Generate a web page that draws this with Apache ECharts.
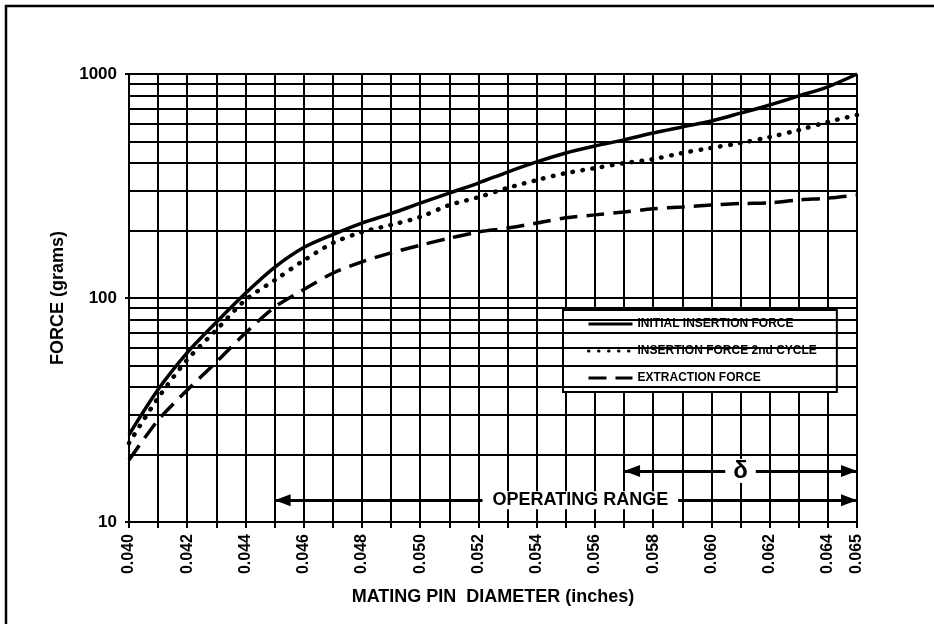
<!DOCTYPE html>
<html>
<head>
<meta charset="utf-8">
<script src="https://cdn.jsdelivr.net/npm/echarts@6/dist/echarts.min.js"></script>
<style>
html,body{margin:0;padding:0;background:#fff;}
#chart{width:934px;height:625px;}
</style>
</head>
<body>
<div id="chart"></div>
<script>
// ---- data ----
var diameters = [0.040,0.041,0.042,0.043,0.044,0.045,0.046,0.047,0.048,0.049,0.050,0.051,0.052,0.053,0.054,0.055,0.056,0.057,0.058,0.059,0.060,0.061,0.062,0.063,0.064,0.065];
var initialInsertion = [24.5,39,57,78,105,137,168,192,216,238,265,294,326,365,405,444,477,508,545,580,617,669,727,798,877,1000];
var secondCycle = [22.5,35.8,53,72,98,120,147,176,197,212,230,260,282,310,336,361,380,400,417,444,468,492,523,562,611,656];
var extraction = [18.9,28.5,38.8,51.8,69.8,91,109,129,145,159,172,185,197,205,216,228,235,242,250,255,260,264,266,274,279,288];
var seriesNames = ['INITIAL INSERTION FORCE','INSERTION FORCE 2nd CYCLE','EXTRACTION FORCE'];
var minorGridValues = [20,30,40,50,60,70,80,90,200,300,400,500,600,700,800,900];
var operatingRange = [0.045, 0.065];
var operatingRangeForce = 12.5;
var operatingRangeLabelAt = 0.0555;
var deltaRange = [0.057, 0.065];
var deltaForce = 16.9;
var deltaLabelAt = 0.061;

function pairs(xs, ys){ return xs.map(function(x,i){ return [x, ys[i]]; }); }

var chart = echarts.init(document.getElementById('chart'), null, {renderer:'canvas'});
var font = 'Liberation Sans, Arial, sans-serif';
var gridLine = {color:'#000', width:2};

var option = {
  animation:false,
  backgroundColor:'#fff',
  textStyle:{fontFamily:font},
  graphic:[
    {type:'polyline', silent:true, shape:{points:[[6,624],[6,6],[934,6]]}, style:{stroke:'#000', lineWidth:2.5, fill:null}}
  ],
  grid:{left:129, right:77, top:74, bottom:103, containLabel:false},
  legend:{
    data:seriesNames,
    orient:'vertical',
    left:563, top:310,
    padding:[8,20,8,24],
    itemGap:15,
    itemWidth:44, itemHeight:14,
    backgroundColor:'#fff',
    borderColor:'#000', borderWidth:2,
    itemStyle:{opacity:0},
    lineStyle:{width:3},
    textStyle:{fontFamily:font, fontWeight:'bold', fontSize:12, color:'#000'}
  },
  xAxis:{
    type:'value', min:0.040, max:0.065, interval:0.002,
    name:'MATING PIN  DIAMETER (inches)', nameLocation:'middle', nameGap:66,
    nameTextStyle:{fontFamily:font, fontWeight:'bold', fontSize:18, color:'#000'},
    axisLine:{show:true, onZero:false, lineStyle:{color:'#000', width:2}},
    axisTick:{show:true, length:6, lineStyle:{color:'#000', width:2}},
    minorTick:{show:true, splitNumber:2, length:6, lineStyle:{color:'#000', width:2}},
    splitLine:{show:true, lineStyle:gridLine},
    minorSplitLine:{show:true, lineStyle:gridLine},
    axisLabel:{rotate:90, margin:12, fontFamily:font, fontWeight:'bold', fontSize:16, color:'#000',
      formatter:function(v){ return v.toFixed(3); }}
  },
  yAxis:{
    type:'log', logBase:10, min:10, max:1000,
    name:'FORCE (grams)', nameLocation:'middle', nameGap:62, nameRotate:90,
    nameTextStyle:{fontFamily:font, fontWeight:'bold', fontSize:18, color:'#000'},
    axisLine:{show:true, lineStyle:{color:'#000', width:2}},
    axisTick:{show:true, length:4, lineStyle:{color:'#000', width:2}},
    splitLine:{show:true, lineStyle:gridLine},
    axisLabel:{margin:12, fontFamily:font, fontWeight:'bold', fontSize:17, color:'#000',
      formatter:function(v){ return String(Math.round(v)); }}
  },
  series:[
    {
      name:seriesNames[0], type:'line', data:pairs(diameters, initialInsertion),
      smooth:0.3, showSymbol:false, symbol:'none',
      lineStyle:{color:'#000', width:3.5, type:'solid'},
      itemStyle:{color:'#000'},
      markLine:{
        silent:true, symbol:'none', label:{show:false},
        lineStyle:{color:'#000', width:2, type:'solid'},
        data:minorGridValues.map(function(v){ return {yAxis:v}; })
      },
      z:5
    },
    {
      name:seriesNames[1], type:'line', data:pairs(diameters, secondCycle),
      smooth:0.3, showSymbol:false, symbol:'none',
      lineStyle:{color:'#000', width:4.5, type:[0.5,9.5], cap:'round'},
      itemStyle:{color:'#000'}, z:5
    },
    {
      name:seriesNames[2], type:'line', data:pairs(diameters, extraction),
      smooth:0.3, showSymbol:false, symbol:'none',
      lineStyle:{color:'#000', width:3.5, type:[18,9]},
      itemStyle:{color:'#000'}, z:5
    },
    {
      name:'annotations', type:'line', data:[], z:6,
      markLine:{
        silent:true, symbol:['triangle','triangle'], symbolSize:[12,16],
        symbolOffset:[[0,8],[0,8]],
        label:{show:false},
        lineStyle:{color:'#000', width:3, type:'solid'},
        data:[
          [{coord:[operatingRange[0], operatingRangeForce]},{coord:[operatingRange[1], operatingRangeForce]}],
          [{coord:[deltaRange[0], deltaForce]},{coord:[deltaRange[1], deltaForce]}]
        ]
      }
    },
    {
      name:'annotationText', type:'scatter', symbolSize:1, z:7, silent:true,
      itemStyle:{color:'#fff', opacity:1},
      data:[
        {value:[operatingRangeLabelAt, operatingRangeForce], label:{formatter:'OPERATING RANGE', fontSize:18, padding:[0,10,0,10]}},
        {value:[deltaLabelAt, deltaForce], label:{formatter:'δ', fontSize:24, padding:[0,8,0,8]}}
      ],
      label:{show:true, position:'inside', color:'#000', opacity:1, fontFamily:font, fontWeight:'bold', backgroundColor:'#fff'}
    }
  ]
};
chart.setOption(option);
</script>
</body>
</html>
